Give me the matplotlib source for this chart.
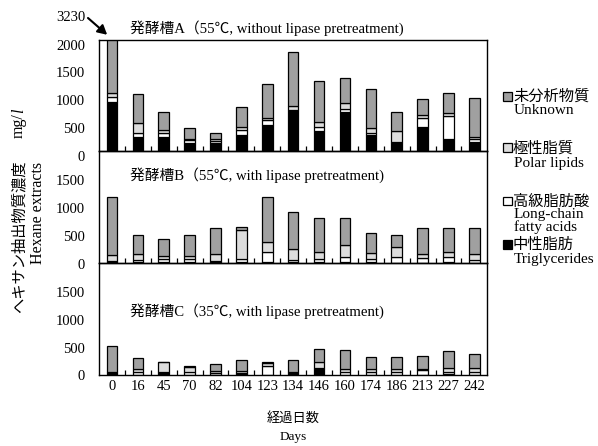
import matplotlib
matplotlib.use("Agg")
import matplotlib.pyplot as plt
from matplotlib.patches import Rectangle
from matplotlib.transforms import ScaledTranslation

W, H = 598, 446

days = [0, 16, 45, 70, 82, 104, 123, 134, 146, 160, 174, 186, 213, 227, 242]

# Panel A (55C, without lipase pretreatment)
a_tg = [885, 257, 257, 150, 150, 287, 466, 735, 365, 694, 287, 138, 436, 209, 167]
a_lcfa = [78, 72, 60, 45, 30, 90, 90, 0, 72, 60, 42, 15, 150, 419, 42]
a_pl = [72, 179, 54, 20, 40, 59, 40, 78, 89, 113, 89, 205, 60, 48, 42]
a_unk = [2195, 508, 323, 198, 97, 359, 600, 969, 736, 438, 688, 336, 281, 359, 694]

# Panel B (55C, with lipase pretreatment)
b_tg = [20, 20, 20, 20, 15, 20, 15, 10, 25, 10, 15, 5, 5, 10, 5]
b_lcfa = [10, 40, 50, 50, 15, 60, 190, 40, 45, 100, 50, 110, 90, 100, 50]
b_pl = [110, 95, 60, 60, 125, 510, 170, 195, 120, 220, 110, 165, 65, 80, 100]
b_unk = [1044, 345, 300, 364, 464, 59, 798, 672, 620, 468, 366, 220, 459, 435, 470]

# Panel C (35C, with lipase pretreatment)
c_tg = [45, 0, 40, 0, 0, 10, 0, 30, 95, 0, 0, 0, 0, 5, 0]
c_lcfa = [0, 40, 0, 50, 35, 10, 160, 5, 15, 40, 40, 45, 80, 40, 40]
c_pl = [0, 55, 190, 80, 30, 45, 40, 5, 110, 50, 55, 55, 15, 75, 80]
c_unk = [472, 207, 0, 28, 118, 195, 19, 220, 237, 350, 213, 220, 243, 307, 242]

titles = ["発酵槽A（55℃, without lipase pretreatment)",
          "発酵槽B（55℃, with lipase pretreatment)",
          "発酵槽C（35℃, with lipase pretreatment)"]

legend_jp = ["未分析物質", "極性脂質", "高級脂肪酸", "中性脂肪"]
legend_en = ["Unknown", "Polar lipids", "Long-chain\nfatty acids", "Triglycerides"]

colors = {"unk": "#a0a0a0", "pl": "#dcdcdc", "lcfa": "#ffffff", "tg": "#000000"}

SERIF = ["Liberation Serif", "Noto Sans CJK JP"]
JP = ["Noto Sans CJK JP", "DejaVu Sans"]

fig = plt.figure(figsize=(W / 100, H / 100), dpi=100)


def rect(left, top, right, bottom):
    return [left / W, 1 - bottom / H, (right - left) / W, (bottom - top) / H]


panels = [
    (rect(99, 39.5, 487.3, 151), (a_tg, a_lcfa, a_pl, a_unk), 5),
    (rect(99, 151, 487.3, 263), (b_tg, b_lcfa, b_pl, b_unk), 1),
    (rect(99, 263, 487.3, 374.5), (c_tg, c_lcfa, c_pl, c_unk), 1),
]

x = list(range(len(days)))
axes = []
for i, (r, (tg, lcfa, pl, unk), off) in enumerate(panels):
    ax = fig.add_axes(r)
    axes.append(ax)
    bottom = [0] * len(days)
    for vals, key in ((tg, "tg"), (lcfa, "lcfa"), (pl, "pl"), (unk, "unk")):
        ax.bar(x, vals, width=0.41, bottom=bottom, color=colors[key],
               edgecolor="black", linewidth=0.9, zorder=2)
        bottom = [b + v for b, v in zip(bottom, vals)]
    ax.set_xlim(-0.5, len(days) - 0.5)
    ax.set_ylim(0, 2000)
    yt = [0, 500, 1000, 1500, 2000] if i == 0 else [0, 500, 1000, 1500]
    ax.set_yticks(yt)
    ax.set_yticklabels([str(v) for v in yt], family=SERIF, fontsize=10.5)
    ax.tick_params(axis="y", length=0, pad=10)
    dy = ScaledTranslation(0, -off / 100, fig.dpi_scale_trans)
    for lab in ax.get_yticklabels():
        lab.set_transform(lab.get_transform() + dy)
    ax.set_xticks([k + 0.5 for k in x[:-1]], minor=True)
    ax.tick_params(axis="x", which="minor", direction="in", length=3.5, width=0.9)
    ax.set_xticks(x)
    ax.tick_params(axis="x", which="major", length=0, pad=4)
    if i == 2:
        ax.set_xticklabels([str(d) for d in days], family=SERIF, fontsize=10.5)
    else:
        ax.set_xticklabels([])
    for s in ax.spines.values():
        s.set_linewidth(1.0)
    ax.patch.set_alpha(0)

# panel titles
title_y = [28, 175, 311]
for t, ty in zip(titles, title_y):
    fig.text(130 / W, 1 - ty / H, t, family=SERIF, fontsize=10.6, va="center", ha="left")

# truncated first bar annotation
total0 = a_tg[0] + a_lcfa[0] + a_pl[0] + a_unk[0]
fig.text(71 / W, 1 - 17.5 / H, str(total0), family=SERIF, fontsize=10.5,
         ha="center", va="center")
axes[0].annotate("", xy=(-0.185, 2085), xycoords="data",
                 xytext=(88 / W, 1 - 18 / H), textcoords="figure fraction",
                 annotation_clip=False,
                 arrowprops=dict(arrowstyle="-|>,head_length=0.55,head_width=0.3",
                                 color="black", lw=1.5, shrinkA=0, shrinkB=0))

# y-axis label
fig.text(19 / W, 1 - 237 / H, "へキサン抽出物質濃度", family=JP, fontsize=11,
         rotation=90, ha="center", va="center")
fig.text(19 / W, 1 - 126 / H, "mg/", family=SERIF, fontsize=11.5,
         rotation=90, ha="center", va="center")
fig.text(19.5 / W, 1 - 111 / H, "l", family=SERIF, style="italic", fontsize=11.5,
         rotation=90, ha="center", va="center")
fig.text(38 / W, 1 - 213 / H, "Hexane extracts", family=SERIF, fontsize=11.5,
         rotation=90, ha="center", va="center")

# x-axis label
fig.text(293 / W, 1 - 418 / H, "経過日数", family=JP, fontsize=9.5, ha="center", va="center")
fig.text(293 / W, 1 - 437 / H, "Days", family=SERIF, fontsize=9.5, ha="center", va="center")

# legend
leg_colors = [colors["unk"], colors["pl"], colors["lcfa"], colors["tg"]]
jp_y = [96, 148, 201, 244]
en_y = [111, 163, 221, 259]
for c, jp, en, jy, ey in zip(leg_colors, legend_jp, legend_en, jp_y, en_y):
    fig.patches.append(Rectangle((503 / W, 1 - (jy + 4.5) / H), 9 / W, 9 / H,
                                 transform=fig.transFigure, facecolor=c,
                                 edgecolor="black", linewidth=0.9))
    fig.text(513 / W, 1 - jy / H, jp, family=JP, fontsize=11, va="center", ha="left")
    fig.text(514 / W, 1 - ey / H, en, family=SERIF, fontsize=11, va="center", ha="left",
             linespacing=0.9)

fig.savefig("out.png", dpi=100)
